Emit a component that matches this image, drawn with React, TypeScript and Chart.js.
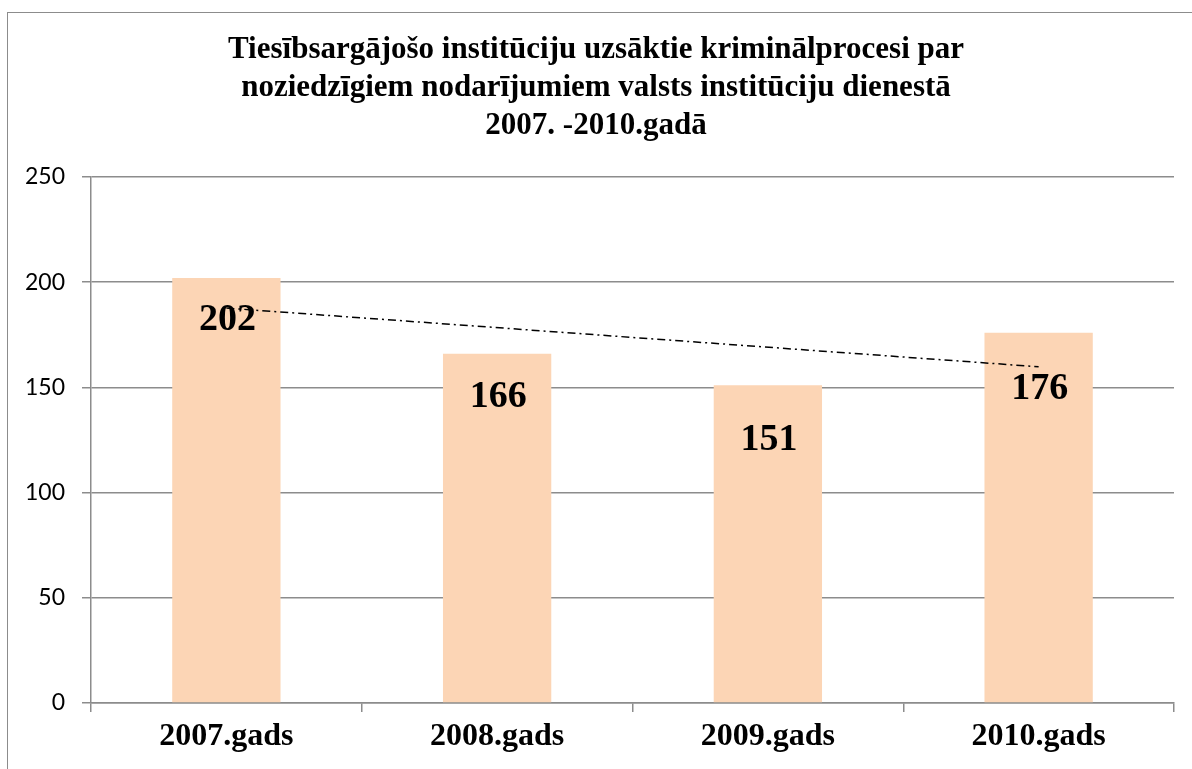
import React, { useEffect, useRef } from "react";
import { Chart, registerables } from "chart.js";

Chart.register(...registerables);

const titleLines = [
  "Tiesībsargājošo institūciju uzsāktie kriminālprocesi par",
  "noziedzīgiem nodarījumiem valsts institūciju dienestā",
  "2007. -2010.gadā",
];
const categories = ["2007.gads", "2008.gads", "2009.gads", "2010.gads"];
const values = [202, 166, 151, 176];
const trendValues = [187.7, null, null, 159.8];
const yTicks = [0, 50, 100, 150, 200, 250];

const labelOffsets = [42, 43, 55, 56];

const dataLabelPlugin = {
  id: "dataLabels",
  afterDatasetsDraw(chart: any) {
    const meta = chart.getDatasetMeta(1);
    const ctx = chart.ctx;
    ctx.save();
    ctx.font = "bold 38px 'Liberation Serif', serif";
    ctx.fillStyle = "#000";
    ctx.textAlign = "center";
    ctx.textBaseline = "middle";
    meta.data.forEach((bar: any, i: number) => {
      ctx.fillText(String(values[i]), bar.x + 1, bar.y + labelOffsets[i]);
    });
    ctx.restore();
  },
};

export default function App() {
  const ref = useRef<HTMLCanvasElement | null>(null);
  useEffect(() => {
    if (!ref.current) return;
    const chart = new Chart(ref.current, {
      type: "bar",
      data: {
        labels: categories,
        datasets: [
          {
            type: "line",
            label: "Trend",
            data: trendValues as any,
            spanGaps: true,
            borderColor: "#000",
            borderWidth: 1.5,
            borderDash: [8, 4, 2, 4],
            pointRadius: 0,
            fill: false,
            order: 0,
          } as any,
          {
            type: "bar",
            label: "Kriminālprocesi",
            data: values,
            backgroundColor: "#FCD5B5",
            borderWidth: 0,
            barPercentage: 0.4,
            categoryPercentage: 1,
            order: 1,
          },
        ],
      },
      options: {
        animation: false,
        responsive: false,
        maintainAspectRatio: false,
        layout: { padding: { top: 31, right: 18, left: 18, bottom: 0 } },
        plugins: {
          legend: { display: false },
          tooltip: { enabled: false },
          title: {
            display: true,
            text: titleLines,
            color: "#000",
            font: { family: "'Liberation Serif', serif", size: 31, weight: "bold", lineHeight: 38 / 31 },
            padding: { top: 0, bottom: 32 },
          },
        },
        scales: {
          x: {
            offset: true,
            grid: {
              offset: true,
              drawOnChartArea: false,
              drawTicks: true,
              tickLength: 9,
              color: "#8c8c8c",
              lineWidth: 1.5,
            },
            border: { display: true, color: "#8c8c8c", width: 1.5 },
            ticks: {
              color: "#000",
              font: { family: "'Liberation Serif', serif", size: 32, weight: "bold" },
              padding: 6,
            },
            afterFit(scale: any) {
              scale.height = 66;
            },
          },
          y: {
            min: 0,
            max: 250,
            afterBuildTicks(scale: any) {
              scale.ticks = yTicks.map((v) => ({ value: v }));
            },
            grid: {
              drawTicks: true,
              tickLength: 9,
              color: "#8c8c8c",
              lineWidth: 1.5,
            },
            border: { display: true, color: "#8c8c8c", width: 1.5 },
            ticks: {
              color: "#000",
              font: { family: "Lato, sans-serif", size: 23 },
              padding: 17,
            },
            afterFit(scale: any) {
              scale.width = 73;
            },
          },
        },
      },
      plugins: [dataLabelPlugin],
    });
    return () => chart.destroy();
  }, []);

  return (
    <div
      style={{
        position: "fixed",
        left: 0,
        top: 0,
        width: 1192,
        height: 769,
        overflow: "hidden",
        background: "#fff",
      }}
    >
      <canvas ref={ref} width={1192} height={769} style={{ position: "absolute", left: 0, top: 0 }} />
      <div
        style={{
          position: "absolute",
          left: 7,
          top: 12,
          width: 1300,
          height: 900,
          border: "1.5px solid #8c8c8c",
          pointerEvents: "none",
        }}
      />
    </div>
  );
}
